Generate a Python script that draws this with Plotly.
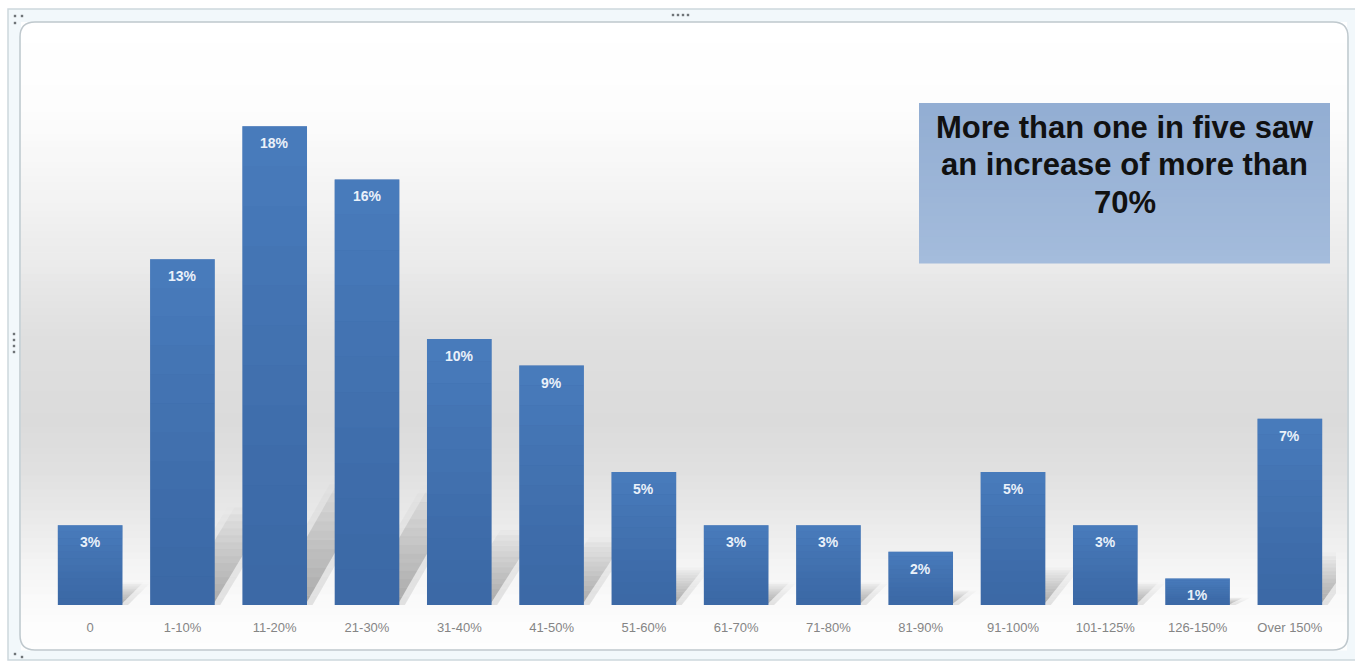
import plotly.graph_objects as go

# Share of respondents by size of increase
categories = ["0", "1-10%", "11-20%", "21-30%", "31-40%", "41-50%", "51-60%",
              "61-70%", "71-80%", "81-90%", "91-100%", "101-125%", "126-150%", "Over 150%"]
shares = [3, 13, 18, 16, 10, 9, 5, 3, 3, 2, 5, 3, 1, 7]
callout_lines = ["More than one in five saw", "an increase of more than", "70%"]

W, H = 1355, 662
PL, PR, PT, PB = 44, 1336, 40, 605          # plot area in pixels
Y_MAX = 21.24
BAR_W = 0.7
FONT = "Liberation Sans, Arial, sans-serif"


def px(x):
    return (x - PL) / (PR - PL)


def py(y):
    return (PB - y) / (PB - PT)


def lerp_gray(stops, y):
    for (y0, g0), (y1, g1) in zip(stops, stops[1:]):
        if y0 <= y <= y1:
            t = (y - y0) / (y1 - y0)
            return g0 + (g1 - g0) * t
    return stops[-1][1]


shapes = []

# outer window strip
shapes.append(dict(type="rect", xref="paper", yref="paper", layer="below",
                   x0=px(8), x1=px(1360), y0=py(660), y1=py(9),
                   fillcolor="#f2f8fb", line=dict(color="#cdd7dd", width=1.5)))

# inner panel with vertical gray gradient
x_in0, x_in1, y_in0, y_in1 = 20, 1348, 22, 650
stops = [(22, 255), (110, 253), (180, 245), (260, 235), (340, 223), (420, 219),
         (470, 224), (520, 234), (565, 244), (600, 250), (630, 253), (650, 254)]
n_bands = 90
step = (y_in1 - y_in0) / n_bands
for k in range(n_bands):
    ya = y_in0 + k * step
    g = int(round(lerp_gray(stops, ya + step / 2)))
    col = f"rgb({g},{g},{g})"
    shapes.append(dict(type="rect", xref="paper", yref="paper", layer="below",
                       x0=px(x_in0 + 1), x1=px(x_in1 - 1), y0=py(ya + step + 0.6), y1=py(ya),
                       fillcolor=col, line=dict(width=0)))

# rounded outline of inner panel
r = 15
path = (f"M {px(x_in0 + r)},{py(y_in0)} L {px(x_in1 - r)},{py(y_in0)} "
        f"Q {px(x_in1)},{py(y_in0)} {px(x_in1)},{py(y_in0 + r)} "
        f"L {px(x_in1)},{py(y_in1 - r)} Q {px(x_in1)},{py(y_in1)} {px(x_in1 - r)},{py(y_in1)} "
        f"L {px(x_in0 + r)},{py(y_in1)} Q {px(x_in0)},{py(y_in1)} {px(x_in0)},{py(y_in1 - r)} "
        f"L {px(x_in0)},{py(y_in0 + r)} Q {px(x_in0)},{py(y_in0)} {px(x_in0 + r)},{py(y_in0)} Z")
shapes.append(dict(type="path", xref="paper", yref="paper", layer="below", path=path,
                   line=dict(color="#bfc8cd", width=1.5)))

# soft floor shadows cast up and to the right of each bar, fading with height
px_per_cat = (PR - PL) / len(categories)
px_per_unit = (PB - PT) / Y_MAX
n_slices = 14
for i, v in enumerate(shares):
    rise_px = min(7.5 * v, 130)
    rise = rise_px / px_per_unit                       # data units
    run = (rise_px / 2.1 + 12) / px_per_cat            # category units
    for grow, a0 in [(0.08, 0.14), (0.0, 0.36)]:
        xs0 = i + BAR_W / 2 - 0.42 - grow
        xs1 = i + BAR_W / 2 - 0.02 + grow
        for j in range(n_slices):
            t0 = j / n_slices
            t1 = (j + 1) / n_slices
            alpha = a0 * (1 - (t0 + t1) / 2) ** 0.9
            p = (f"M {xs0 + run * t0},{rise * t0} L {xs1 + run * t0},{rise * t0} "
                 f"L {xs1 + run * t1},{rise * t1} L {xs0 + run * t1},{rise * t1} Z")
            shapes.append(dict(type="path", xref="x", yref="y", layer="below", path=p,
                               fillcolor=f"rgba(70,70,70,{alpha:.3f})", line=dict(width=0)))

# lighter sheen toward the top of each bar
n_sheen = 12
for i, v in enumerate(shares):
    for j in range(n_sheen):
        t0 = j / n_sheen
        t1 = (j + 1) / n_sheen
        alpha = 0.55 * ((t0 + t1) / 2) ** 1.3
        shapes.append(dict(type="rect", xref="x", yref="y", layer="above",
                           x0=i - BAR_W / 2, x1=i + BAR_W / 2, y0=v * t0, y1=v * t1,
                           fillcolor=f"rgba(84,140,208,{alpha:.3f})", line=dict(width=0)))

# callout box with light gradient
bx0, bx1, by0, by1 = 919, 1330, 103, 263
nb = 24
for k in range(nb):
    t = k / (nb - 1)
    rr = int(147 + (164 - 147) * t)
    gg = int(174 + (188 - 174) * t)
    bb = int(211 + (220 - 211) * t)
    ya = by0 + k * (by1 - by0) / nb
    yb = by0 + (k + 1) * (by1 - by0) / nb + 0.6
    shapes.append(dict(type="rect", xref="paper", yref="paper", layer="above",
                       x0=px(bx0), x1=px(bx1), y0=py(yb), y1=py(ya),
                       fillcolor=f"rgb({rr},{gg},{bb})", line=dict(width=0)))

# selection handles on the frame
handles = [(673, 15), (678, 15), (683, 15), (688, 15),
           (14, 334), (14, 340), (14, 346), (14, 352),
           (15, 16), (22, 16), (15, 23), (15, 654), (22, 657)]
for hx, hy in handles:
    shapes.append(dict(type="rect", xref="paper", yref="paper", layer="above",
                       x0=px(hx - 1.2), x1=px(hx + 1.2), y0=py(hy + 1.2), y1=py(hy - 1.2),
                       fillcolor="#6f7478", line=dict(width=0)))

idx = list(range(len(categories)))

fig = go.Figure(go.Bar(
    x=idx, y=shares, width=BAR_W,
    marker=dict(color="#3c69a6", line=dict(width=0)),
    hoverinfo="skip",
))

annotations = []
for i, v in enumerate(shares):
    annotations.append(dict(x=i, y=v, xref="x", yref="y", text=f"<b>{v}%</b>",
                            showarrow=False, yanchor="top", yshift=-7,
                            font=dict(family=FONT, size=14, color="#eaf1fa")))

line_y = [127, 164, 202]
for txt, ly in zip(callout_lines, line_y):
    annotations.append(dict(x=px((bx0 + bx1) / 2), y=py(ly), xref="paper", yref="paper",
                            text=f"<b>{txt}</b>", showarrow=False,
                            xanchor="center", yanchor="middle", align="center",
                            font=dict(family=FONT, size=31, color="#111111")))

fig.update_layout(
    width=W, height=H,
    margin=dict(l=PL, r=W - PR, t=PT, b=H - PB),
    paper_bgcolor="white", plot_bgcolor="rgba(0,0,0,0)",
    showlegend=False,
    shapes=shapes,
    annotations=annotations,
    bargap=0.3,
    xaxis=dict(range=[-0.5, len(categories) - 0.5], tickmode="array", tickvals=idx,
               ticktext=categories, showgrid=False, zeroline=False, showline=False,
               ticks="", ticklabelstandoff=13,
               tickfont=dict(family=FONT, size=13, color="#858585")),
    yaxis=dict(range=[0, Y_MAX], visible=False, showgrid=False, zeroline=False),
)

fig.write_html("out.html")
